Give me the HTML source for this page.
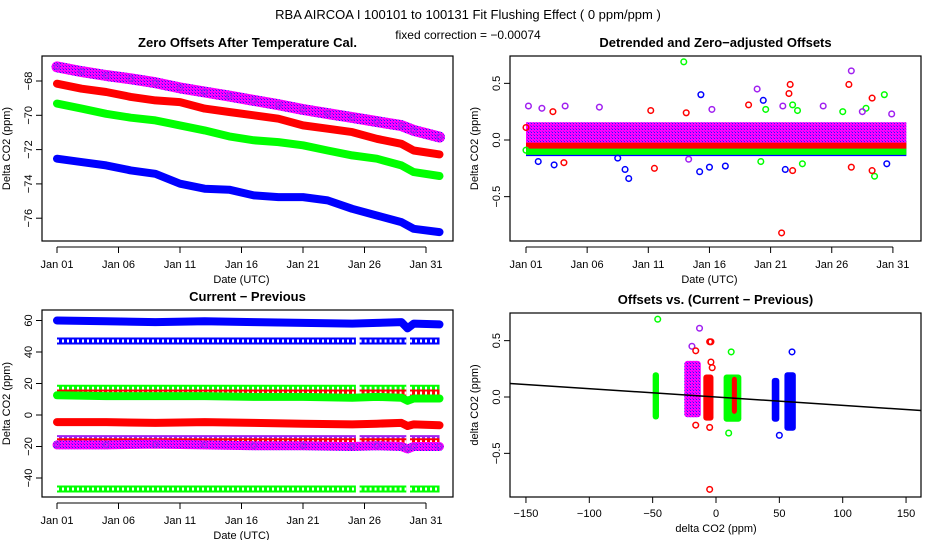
<!DOCTYPE html>
<html><head><meta charset="utf-8"><style>
html,body{margin:0;padding:0;background:#fff;}
svg{display:block;font-family:"Liberation Sans",sans-serif;}
</style></head><body>
<svg id="c" width="936" height="540" viewBox="0 0 936 540">
<defs>
<pattern id="pp" width="3" height="3" patternUnits="userSpaceOnUse"><rect width="3" height="3" fill="#ff00ff"/><rect width="1" height="1" fill="#2020ff"/><rect x="2" y="2" width="1" height="1" fill="#a000ff"/></pattern>
</defs>
<text x="468" y="19" font-size="13" text-anchor="middle">RBA   AIRCOA I   100101 to 100131   Fit Flushing Effect ( 0 ppm/ppm )</text>
<text x="468" y="39" font-size="12" text-anchor="middle">fixed correction = −0.00074</text>
</svg>
<script>
// ---------- data ----------
const days1 = [0,2,4,6,8,10,12,14,16,18,20,22,24,26,28,29,31.1];
const p1Purple = [-67.18,-67.45,-67.68,-67.87,-68.1,-68.4,-68.64,-68.88,-69.13,-69.38,-69.66,-69.9,-70.13,-70.37,-70.6,-70.88,-71.27];
const p1Red = [-68.16,-68.45,-68.64,-68.93,-69.13,-69.23,-69.61,-69.81,-70.0,-70.2,-70.59,-70.78,-70.98,-71.37,-71.66,-72.05,-72.28];
const p1Green = [-69.32,-69.61,-69.91,-70.14,-70.3,-70.59,-70.88,-71.23,-71.46,-71.56,-71.75,-72.05,-72.34,-72.53,-72.92,-73.31,-73.54];
const p1Blue = [-72.53,-72.73,-72.92,-73.21,-73.41,-73.99,-74.28,-74.34,-74.67,-74.77,-74.77,-74.96,-75.45,-75.84,-76.23,-76.62,-76.81];
const p1Ticks = [-68,-70,-72,-74,-76];
const dateLabels = ["Jan 01","Jan 06","Jan 11","Jan 16","Jan 21","Jan 26","Jan 31"];
const dateTicks = [0,5,10,15,20,25,30];

const p2Means = {purple:0.06, red:-0.05, green:-0.07, blue:-0.08};
const p2Green = [[12.9,0.69],[19.6,0.27],[21.8,0.31],[22.2,0.26],[25.9,0.25],[27.8,0.28],[29.3,0.4],[28.5,-0.32],[22.6,-0.21],[0,-0.09],[19.2,-0.19]];
const p2Blue = [[14.3,0.4],[19.4,0.35],[8.4,-0.34],[8.1,-0.26],[14.2,-0.28],[15.0,-0.24],[16.3,-0.23],[21.2,-0.26],[1,-0.19],[2.3,-0.22],[29.5,-0.21],[7.5,-0.16]];
const p2Red = [[2.2,0.25],[10.2,0.26],[13.1,0.24],[18.2,0.31],[21.6,0.49],[21.5,0.41],[26.4,0.49],[28.3,0.37],[20.9,-0.82],[21.8,-0.27],[26.6,-0.24],[10.5,-0.25],[3.1,-0.2],[28.3,-0.27],[0,0.11]];
const p2Purple = [[0.2,0.3],[1.3,0.28],[3.2,0.3],[6.0,0.29],[18.9,0.45],[26.6,0.61],[24.3,0.3],[21.0,0.3],[15.2,0.27],[27.5,0.25],[29.9,0.23],[13.3,-0.17]];
const p2Ticks = [0.5,0.0,-0.5];
const p2TickLabels = ["0.5","0.0","−0.5"];

const days3 = [0,4,8,12,16,20,24,26,28,28.5,29,31.1];
const p3Blue = [60,59.5,59,59.5,59,58.5,58,58.5,59,55,58,57.5];
const p3Red = [-4.5,-4.5,-5,-4.5,-5,-5.5,-6,-5.5,-5,-7,-6,-6.5];
const p3Green = [12.5,12,12,12,11.5,11.5,11,11.5,11,9,10.5,10.5];
const p3Purple = [-19,-19,-18.5,-19,-19.5,-19.5,-20,-19.5,-20,-21.5,-20,-20];
const ringRows = [47,17,14,-15,-17,-47];
const ringColors = ["#0000ff","#00ff00","#ff0000","#a020f0","#ff0000","#00ff00"];
const ringGaps = [[24.3,24.6],[28.4,28.7]];
const p3Ticks = [60,40,20,0,-20,-40];

const clX = [-47.5,-18.5,-6,13,14.5,47,58.5];
const clW = [5,13,8,14,4,6,9];
const clLo = [-0.2,-0.18,-0.21,-0.22,-0.15,-0.22,-0.3];
const clHi = [0.22,0.32,0.2,0.2,0.18,0.17,0.22];
const clCol = ["#00ff00","url(#pp)","#ff0000","#00ff00","#ff0000","#0000ff","#0000ff"];
const p4Out = [[-46,0.69,"#00ff00"],[-13,0.61,"#a020f0"],[-19,0.45,"#a020f0"],[-5,0.49,"#ff0000"],[-4,0.49,"#ff0000"],[-16,0.41,"#ff0000"],[12,0.4,"#00ff00"],[60,0.4,"#0000ff"],[-4,0.31,"#ff0000"],[-3,0.26,"#ff0000"],[-5,-0.27,"#ff0000"],[-5,-0.82,"#ff0000"],[10,-0.32,"#00ff00"],[50,-0.34,"#0000ff"],[-16,-0.25,"#ff0000"]];
const p4XTicks = [-150,-100,-50,0,50,100,150];
const fitSlope = -0.00074;

// ---------- helpers ----------
const S = document.getElementById('c'), NS = 'http://www.w3.org/2000/svg';
function el(t, a, p){const e=document.createElementNS(NS,t);for(const k in a)e.setAttribute(k,a[k]);(p||S).appendChild(e);return e;}
function txt(x,y,s,a,p){const e=el('text',Object.assign({x:x,y:y,'font-size':11,'text-anchor':'middle'},a||{}),p);e.textContent=s;return e;}
function pathOf(xs,ys){return xs.map((x,i)=>(i?'L':'M')+x.toFixed(1)+' '+ys[i].toFixed(1)).join(' ');}

function frame(L,R,T,B,title,ylab,name){
  const g=el('g',{});
  
  
  const r=el('rect',{x:L,y:T,width:R-L,height:B-T,fill:'none',stroke:'#000','stroke-width':1.2},g);
  
  
  const t=txt((L+R)/2,T-9,title,{'font-weight':'bold','font-size':13},g);
  
  
  const yl=txt(0,0,ylab,{'font-size':11,transform:'translate('+(L-32)+','+((T+B)/2)+') rotate(-90)'},g);
  
  
  return g;
}
function yAxis(g,L,vals,labs,ys){
  vals.forEach((v,i)=>{const y=ys(v);
    el('line',{x1:L-6,x2:L,y1:y,y2:y,stroke:'#000'},g);
    const t=txt(0,0,labs[i],{transform:'translate('+(L-10)+','+y+') rotate(-90)'},g);
    
    });
}
function xAxis(g,B,vals,labs,xs,xlab){
  el('line',{x1:xs(vals[0]),x2:xs(vals[vals.length-1]),y1:B,y2:B,stroke:'#000'},g);
  vals.forEach((v,i)=>{const x=xs(v);
    el('line',{x1:x,x2:x,y1:B,y2:B+6,stroke:'#000'},g);
    const t=txt(x,B+21,labs[i],{},g);
    
    });
  const t=txt((xs(vals[0])+xs(vals[vals.length-1]))/2,B+36,xlab,{},g);
  
  
}
function band(g,xs,ys,col,w,name){
  const p=el('path',{d:pathOf(xs,ys),fill:'none',stroke:col,'stroke-width':w,'stroke-linejoin':'round','stroke-linecap':'round'},g);
  
  
  xs.forEach((x,i)=>{const c=el('circle',{cx:x,cy:ys[i],r:2.6,fill:'none',stroke:col==='url(#pp)'?'#a020f0':col,'stroke-width':1.4},g);
    
    });
}
function pt(g,x,y,col){const c=el('circle',{cx:x,cy:y,r:2.8,fill:'none',stroke:col,'stroke-width':1.5},g);
  
  }

// ---------- panel 1 ----------
{const L=42,R=453,T=56,B=241;
 const xs=d=>57+d*12.3, ys=v=>81+(-68-v)*17.15;
 const g=frame(L,R,T,B,'Zero Offsets After Temperature Cal.','Delta CO2 (ppm)','panel-zero-offsets');
 yAxis(g,L,p1Ticks,p1Ticks.map(v=>'−'+Math.abs(v)),ys);
 xAxis(g,B+6,dateTicks,dateLabels,xs,'Date (UTC)');
 const X=days1.map(xs);
 band(g,X,p1Purple.map(ys),'url(#pp)',11,'series-purple');
 band(g,X,p1Red.map(ys),'#ff0000',8,'series-red');
 band(g,X,p1Green.map(ys),'#00ff00',8,'series-green');
 band(g,X,p1Blue.map(ys),'#0000ff',8,'series-blue');}

// ---------- panel 2 ----------
{const L=510,R=921,T=56,B=241;
 const xs=d=>526+d*12.23, ys=v=>140-v*113.3;
 const g=frame(L,R,T,B,'Detrended and Zero−adjusted Offsets','Delta CO2 (ppm)','panel-detrended');
 yAxis(g,L,p2Ticks,p2TickLabels,ys);
 xAxis(g,B+6,dateTicks,dateLabels,xs,'Date (UTC)');
 const x0=xs(0),x1=xs(31.1);
 [['blue','#0000ff',14],['green','#00ff00',14],['purple','url(#pp)',22],['red','#ff0000',6]].forEach(s=>{
   const y=ys(p2Means[s[0]]);
   const p=el('path',{d:'M'+x0+' '+y+' L'+x1+' '+y,stroke:s[1],'stroke-width':s[2],fill:'none'},g);
   
   });
 p2Blue.forEach(p=>pt(g,xs(p[0]),ys(p[1]),'#0000ff'));
 p2Green.forEach(p=>pt(g,xs(p[0]),ys(p[1]),'#00ff00'));
 p2Red.forEach(p=>pt(g,xs(p[0]),ys(p[1]),'#ff0000'));
 p2Purple.forEach(p=>pt(g,xs(p[0]),ys(p[1]),'#a020f0'));}

// ---------- panel 3 ----------
{const L=42,R=453,T=310,B=497;
 const xs=d=>57+d*12.3, ys=v=>415-v*1.575;
 const g=frame(L,R,T,B,'Current − Previous','Delta CO2 (ppm)','panel-current-previous');
 yAxis(g,L,p3Ticks,p3Ticks.map(v=>v<0?'−'+Math.abs(v):String(v)),ys);
 xAxis(g,B+6,dateTicks,dateLabels,xs,'Date (UTC)');
 const segs=[[0,ringGaps[0][0]],[ringGaps[0][1],ringGaps[1][0]],[ringGaps[1][1],31.1]];
 ringRows.forEach((v,i)=>{const y=ys(v);
   segs.forEach(s=>{
     const p=el('path',{d:'M'+xs(s[0])+' '+y+' L'+xs(s[1])+' '+y,stroke:ringColors[i],'stroke-width':7,fill:'none'},g);
     
     
     el('path',{d:'M'+xs(s[0])+' '+y+' L'+xs(s[1])+' '+y,stroke:'#fff','stroke-width':3,fill:'none','stroke-dasharray':'2 3'},g);});});
 const X=days3.map(xs);
 band(g,X,p3Blue.map(ys),'#0000ff',8,'series-blue');
 band(g,X,p3Green.map(ys),'#00ff00',8,'series-green');
 band(g,X,p3Red.map(ys),'#ff0000',8,'series-red');
 band(g,X,p3Purple.map(ys),'url(#pp)',9,'series-purple');}

// ---------- panel 4 ----------
{const L=510,R=921,T=313,B=497;
 const xs=v=>716+v*1.267, ys=v=>397-v*112.7;
 const g=frame(L,R,T,B,'Offsets vs. (Current − Previous)','delta CO2 (ppm)','panel-offsets-vs-diff');
 yAxis(g,L,p2Ticks,p2TickLabels,ys);
 el('line',{x1:L,x2:R,y1:B,y2:B,stroke:'#000'},g);
 p4XTicks.forEach(v=>{const x=xs(v);el('line',{x1:x,x2:x,y1:B,y2:B+6,stroke:'#000'},g);
   const t=txt(x,B+20,v<0?'−'+Math.abs(v):String(v),{},g);
   
   });
 const xt=txt(xs(0),B+35,'delta CO2 (ppm)',{},g);
 
 
 clX.forEach((c,i)=>{
   const r=el('rect',{x:xs(c-clW[i]/2),y:ys(clHi[i]),width:clW[i]*1.267,height:ys(clLo[i])-ys(clHi[i]),rx:3,fill:clCol[i]},g);
   
   });
 p4Out.forEach(p=>pt(g,xs(p[0]),ys(p[1]),p[2]));
 const fl=el('line',{x1:L,x2:R,y1:ys(fitSlope*((L-716)/1.267)),y2:ys(fitSlope*((R-716)/1.267)),stroke:'#000','stroke-width':1.5},g);
 
 }
</script>
</body></html>
